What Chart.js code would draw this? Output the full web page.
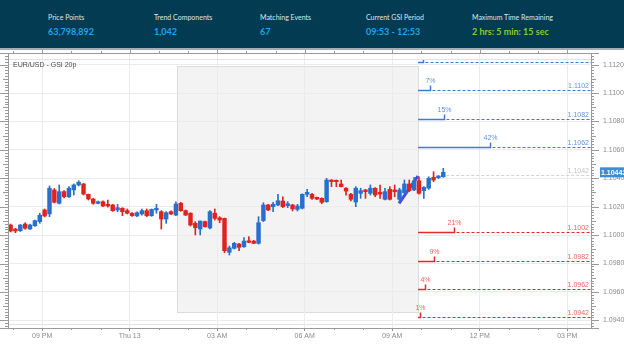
<!DOCTYPE html>
<html>
<head>
<meta charset="utf-8">
<script src="https://cdn.jsdelivr.net/npm/chart.js@4.4.1/dist/chart.umd.min.js"></script>
<style>
  body { margin: 0; width: 624px; height: 345px; overflow: hidden; background: #fff; font-family: Lato, "Liberation Sans", sans-serif; }
  #stats { position: absolute; left: 0; top: 0; width: 624px; height: 48px; background: #023b52; border-bottom: 2px solid #a3adb3; }
  .s { position: absolute; top: 0; }
  .k { position: absolute; top: 13px; white-space: nowrap; font-size: 7px; line-height: 9px; color: #dfe7ec; }
  .v { position: absolute; top: 26px; white-space: nowrap; font-size: 9px; line-height: 12px; font-weight: bold; color: #1ea6e6; }
  .v.g { color: #8cc832; }
  #c { position: absolute; left: 0; top: 50px; }
</style>
</head>
<body>
<div id="stats">
  <div class="s" style="left:48px"><div class="k">Price Points</div><div class="v">63,798,892</div></div>
  <div class="s" style="left:154px"><div class="k">Trend Components</div><div class="v">1,042</div></div>
  <div class="s" style="left:260px"><div class="k">Matching Events</div><div class="v">67</div></div>
  <div class="s" style="left:366px"><div class="k">Current GSI Period</div><div class="v">09:53 - 12:53</div></div>
  <div class="s" style="left:472px"><div class="k">Maximum Time Remaining</div><div class="v g">2 hrs: 5 min: 15 sec</div></div>
</div>
<canvas id="c" width="624" height="295"></canvas>
<script>
// 10 minute EUR/USD bars, time in hours from Wed 00:00
var barStart = 19 + 55 / 60;
var barStep = 10 / 60;

var open = [1.10071, 1.10043, 1.10031, 1.10078, 1.10043, 1.10066, 1.10095, 1.10177, 1.10149, 1.10318,
  1.10224, 1.10306, 1.10270, 1.10318, 1.10353, 1.10360, 1.10287, 1.10254, 1.10224, 1.10235,
  1.10217, 1.10212, 1.10177, 1.10189, 1.10172, 1.10154, 1.10135, 1.10149, 1.10172, 1.10137,
  1.10177, 1.10165, 1.10113, 1.10165, 1.10141, 1.10224, 1.10172, 1.10154, 1.10083, 1.10043,
  1.10095, 1.10050, 1.10154, 1.10122, 1.10118, 1.09879, 1.09907, 1.09937, 1.09918, 1.09960,
  1.09958, 1.09942, 1.10102, 1.10212, 1.10200, 1.10212, 1.10240, 1.10207, 1.10212, 1.10181,
  1.10189, 1.10287, 1.10287, 1.10266, 1.10259, 1.10235, 1.10388, 1.10386, 1.10360, 1.10330,
  1.10287, 1.10233, 1.10294, 1.10318, 1.10294, 1.10330, 1.10301, 1.10252, 1.10322, 1.10318,
  1.10252, 1.10298, 1.10360, 1.10318, 1.10383, 1.10313, 1.10330, 1.10407, 1.10404, 1.10411];
var high = [1.10078, 1.10047, 1.10075, 1.10087, 1.10078, 1.10106, 1.10154, 1.10184, 1.10346, 1.10328,
  1.10353, 1.10314, 1.10341, 1.10360, 1.10383, 1.10365, 1.10289, 1.10259, 1.10240, 1.10242,
  1.10247, 1.10217, 1.10217, 1.10193, 1.10184, 1.10158, 1.10163, 1.10184, 1.10184, 1.10184,
  1.10217, 1.10172, 1.10165, 1.10170, 1.10235, 1.10231, 1.10177, 1.10158, 1.10095, 1.10099,
  1.10099, 1.10172, 1.10184, 1.10130, 1.10120, 1.09923, 1.09949, 1.09942, 1.09982, 1.09989,
  1.09963, 1.10130, 1.10228, 1.10217, 1.10231, 1.10287, 1.10270, 1.10235, 1.10217, 1.10217,
  1.10291, 1.10322, 1.10294, 1.10268, 1.10263, 1.10400, 1.10390, 1.10388, 1.10388, 1.10334,
  1.10294, 1.10341, 1.10330, 1.10322, 1.10353, 1.10334, 1.10353, 1.10330, 1.10341, 1.10353,
  1.10330, 1.10388, 1.10388, 1.10407, 1.10411, 1.10341, 1.10411, 1.10446, 1.10420, 1.10470];
var low = [1.10022, 1.10017, 1.10025, 1.10041, 1.10040, 1.10061, 1.10083, 1.10128, 1.10130, 1.10226,
  1.10219, 1.10261, 1.10263, 1.10282, 1.10346, 1.10282, 1.10247, 1.10217, 1.10219, 1.10200,
  1.10196, 1.10167, 1.10165, 1.10137, 1.10149, 1.10132, 1.10130, 1.10141, 1.10130, 1.10132,
  1.10154, 1.10043, 1.10083, 1.10144, 1.10137, 1.10167, 1.10137, 1.10064, 1.10001, 1.10001,
  1.10055, 1.10043, 1.10106, 1.10087, 1.09876, 1.09860, 1.09902, 1.09890, 1.09914, 1.09946,
  1.09939, 1.09937, 1.10095, 1.10172, 1.10165, 1.10207, 1.10193, 1.10193, 1.10170, 1.10170,
  1.10184, 1.10270, 1.10252, 1.10249, 1.10221, 1.10231, 1.10341, 1.10341, 1.10339, 1.10282,
  1.10240, 1.10200, 1.10259, 1.10259, 1.10282, 1.10270, 1.10259, 1.10247, 1.10247, 1.10270,
  1.10235, 1.10294, 1.10306, 1.10313, 1.10289, 1.10259, 1.10322, 1.10376, 1.10398, 1.10407];
var close = [1.10029, 1.10029, 1.10071, 1.10048, 1.10071, 1.10102, 1.10140, 1.10135, 1.10330, 1.10231,
  1.10306, 1.10270, 1.10330, 1.10353, 1.10372, 1.10289, 1.10254, 1.10224, 1.10235, 1.10205,
  1.10205, 1.10172, 1.10193, 1.10165, 1.10154, 1.10137, 1.10158, 1.10172, 1.10137, 1.10181,
  1.10189, 1.10113, 1.10158, 1.10149, 1.10219, 1.10172, 1.10141, 1.10071, 1.10052, 1.10099,
  1.10059, 1.10165, 1.10118, 1.10106, 1.09890, 1.09911, 1.09942, 1.09914, 1.09958, 1.09949,
  1.09942, 1.10087, 1.10212, 1.10177, 1.10217, 1.10242, 1.10200, 1.10221, 1.10184, 1.10205,
  1.10287, 1.10301, 1.10259, 1.10254, 1.10231, 1.10388, 1.10376, 1.10376, 1.10341, 1.10310,
  1.10252, 1.10330, 1.10313, 1.10306, 1.10330, 1.10282, 1.10289, 1.10306, 1.10252, 1.10306,
  1.10318, 1.10360, 1.10313, 1.10383, 1.10294, 1.10336, 1.10400, 1.10388, 1.10416, 1.10442];

var tickHours = [21, 24, 27, 30, 33, 36, 39];
var tickLabels = ['09 PM', 'Thu 13', '03 AM', '06 AM', '09 AM', '12 PM', '03 PM'];
var priceTicks = [1.0940, 1.0960, 1.0980, 1.1000, 1.1020, 1.1040, 1.1060, 1.1080, 1.1100, 1.1120];

// matching window and the projected levels after it
var periodStart = 25 + 37 / 60;
var periodEnd = 33 + 53 / 60;
var boxTop = 1.1119, boxBottom = 1.0946;
var upLevels = [1.1122, 1.1102, 1.1082, 1.1062];
var upPct = [3, 7, 15, 42];
var downLevels = [1.1002, 1.0982, 1.0962, 1.0942];
var downPct = [21, 9, 4, 1];
var pctHours = 0.0591;   // length of the probability bar per percent
var refLevel = 1.1042;
var lastPrice = 1.10442;

var trendX = [33 + 14 / 60, 33 + 53 / 60];
var trendY = [1.10224, 1.10416];

var xMin = 19.8276, xMax = 39.814;
var yMin = 1.09346, yMax = 1.11282;

var BLUE = '#2870cf', RED = '#e0231e';
var times = close.map(function (c, i) { return barStart + i * barStep; });
var colour = function (ctx) { return close[ctx.dataIndex] >= open[ctx.dataIndex] ? BLUE : RED; };
var smallFont = '"Liberation Sans", Arial, sans-serif';

var overlay = {
  id: 'overlay',
  beforeDraw: function (chart) {
    var ctx = chart.ctx, x = chart.scales.x, y = chart.scales.y;
    var l = x.getPixelForValue(periodStart), r = x.getPixelForValue(periodEnd);
    var t = y.getPixelForValue(boxTop), b = y.getPixelForValue(boxBottom);
    ctx.save();
    ctx.fillStyle = '#f3f3f3';
    ctx.fillRect(l, t, r - l, b - t);
    ctx.strokeStyle = '#dcdcdc';
    ctx.lineWidth = 1;
    ctx.strokeRect(Math.round(l) + 0.5, Math.round(t) + 0.5, Math.round(r - l), Math.round(b - t));
    ctx.restore();
  },
  afterDraw: function (chart) {
    var ctx = chart.ctx, x = chart.scales.x, y = chart.scales.y, a = chart.chartArea;
    var fTop = a.top + 6, fBot = a.bottom - 4;
    ctx.save();

    // inner frame
    ctx.strokeStyle = '#e2e2e2';
    ctx.lineWidth = 1;
    ctx.beginPath();
    ctx.moveTo(a.left, fTop + 0.5); ctx.lineTo(a.right, fTop + 0.5);
    ctx.moveTo(a.left, fBot + 0.5); ctx.lineTo(a.right, fBot + 0.5);
    ctx.stroke();

    // rulers
    ctx.strokeStyle = '#9a9a9a';
    ctx.beginPath();
    ctx.moveTo(0, a.top + 0.5); ctx.lineTo(a.right + 8, a.top + 0.5);
    ctx.moveTo(0, a.bottom + 0.5); ctx.lineTo(a.right + 8, a.bottom + 0.5);
    ctx.moveTo(a.left + 0.5, a.top); ctx.lineTo(a.left + 0.5, a.bottom);
    ctx.moveTo(a.right + 0.5, a.top); ctx.lineTo(a.right + 0.5, a.bottom);
    for (var h = 20; h <= 39; h++) {
      var px = Math.round(x.getPixelForValue(h)) + 0.5;
      var big = h % 3 === 0;
      ctx.moveTo(px, a.top); ctx.lineTo(px, a.top - (big ? 3 : 2));
      if (!big) { ctx.moveTo(px, a.bottom); ctx.lineTo(px, a.bottom + 2); }
    }
    for (var k = Math.ceil(yMin * 5000) * 2; k <= yMax * 10000; k += 2) {
      var py = Math.round(y.getPixelForValue(k / 10000)) + 0.5;
      var len = k % 20 === 0 ? 8 : (k % 10 === 0 ? 5 : 3);
      ctx.moveTo(a.left, py); ctx.lineTo(a.left - len, py);
      ctx.moveTo(a.right, py); ctx.lineTo(a.right + len, py);
    }
    ctx.stroke();

    ctx.font = '7px ' + smallFont;
    ctx.fillStyle = '#4a4a4a';
    ctx.textBaseline = 'middle';
    ctx.fillText('EUR/USD - GSI 20p', a.left + 5, fTop + 6);

    // projected levels
    ctx.save();
    ctx.beginPath();
    ctx.rect(a.left, fTop + 1, a.right - a.left, fBot - fTop - 1);
    ctx.clip();
    var x0 = x.getPixelForValue(periodEnd);
    function level(p, pct, line, label) {
      var ly = Math.round(y.getPixelForValue(p)) + 0.5;
      var x1 = Math.round(x.getPixelForValue(periodEnd + pct * pctHours)) + 0.5;
      ctx.strokeStyle = line;
      ctx.lineWidth = 1.5;
      ctx.setLineDash([]);
      ctx.beginPath();
      ctx.moveTo(x0, ly); ctx.lineTo(x1, ly); ctx.lineTo(x1, ly - 5);
      ctx.stroke();
      ctx.lineWidth = 1;
      ctx.setLineDash([3, 2]);
      ctx.beginPath();
      ctx.moveTo(x1 + 2, ly); ctx.lineTo(a.right, ly);
      ctx.stroke();
      ctx.fillStyle = label;
      ctx.textAlign = 'center';
      ctx.fillText(pct + '%', x1, ly - 9);
      ctx.textAlign = 'right';
      ctx.fillText(p.toFixed(4), a.right - 2, ly - 4);
    }
    upLevels.forEach(function (p, i) { level(p, upPct[i], '#3a7cd8', '#5f93de'); });
    downLevels.forEach(function (p, i) { level(p, downPct[i], '#e42a2a', '#ea6262'); });

    var ry = Math.round(y.getPixelForValue(refLevel)) + 0.5;
    ctx.strokeStyle = '#d2d2d2';
    ctx.setLineDash([3, 2]);
    ctx.beginPath();
    ctx.moveTo(x.getPixelForValue(times[times.length - 1] + 0.1), ry); ctx.lineTo(a.right, ry);
    ctx.stroke();
    ctx.fillStyle = '#c4c4c4';
    ctx.fillText(refLevel.toFixed(4), a.right - 2, ry - 4);
    ctx.restore();

    // last price tag
    var ty = y.getPixelForValue(lastPrice);
    ctx.setLineDash([]);
    ctx.fillStyle = '#3a8dd6';
    ctx.fillRect(a.right + 9, ty - 5, 624 - a.right - 9, 10);
    ctx.fillStyle = '#fff';
    ctx.font = 'bold 7px ' + smallFont;
    ctx.textAlign = 'left';
    ctx.fillText(lastPrice.toFixed(5), a.right + 10, ty + 0.5);
    ctx.restore();
  }
};

new Chart(document.getElementById('c'), {
  type: 'bar',
  data: {
    datasets: [
      { data: times.map(function (t, i) { return { x: t, y: [low[i], high[i]] }; }),
        barThickness: 1, grouped: false, backgroundColor: colour },
      { data: times.map(function (t, i) { return { x: t, y: [open[i], close[i]] }; }),
        barThickness: 3.8, minBarLength: 1, grouped: false, backgroundColor: colour },
      { type: 'line', data: trendX.map(function (t, i) { return { x: t, y: trendY[i] }; }),
        borderColor: '#4848ef', borderWidth: 3, pointRadius: 0 }
    ]
  },
  options: {
    responsive: false,
    animation: false,
    layout: { padding: { left: 8, top: 3 } },
    plugins: { legend: { display: false }, tooltip: { enabled: false } },
    scales: {
      x: {
        type: 'linear', min: xMin, max: xMax, offset: false,
        afterBuildTicks: function (s) { s.ticks = tickHours.map(function (v) { return { value: v }; }); },
        afterFit: function (s) { s.height = 17; },
        grid: { color: '#ebebeb', tickColor: '#8c8c8c', tickLength: 3, offset: false },
        border: { display: false },
        ticks: {
          autoSkip: false, maxRotation: 0, padding: 1, color: '#8a8a8a',
          font: { family: smallFont, size: 7 },
          callback: function (v) { return tickLabels[tickHours.indexOf(v)]; }
        }
      },
      y: {
        position: 'right', min: yMin, max: yMax, beginAtZero: false,
        afterBuildTicks: function (s) { s.ticks = priceTicks.map(function (v) { return { value: v }; }); },
        afterFit: function (s) { s.width = 33; },
        grid: { color: '#ebebeb', drawTicks: true, tickLength: 12, tickColor: 'rgba(0,0,0,0)' },
        border: { display: false },
        ticks: {
          padding: 0, color: '#8a8a8a',
          font: { family: smallFont, size: 7, lineHeight: 0.8 },
          callback: function (v) { return v.toFixed(4); }
        }
      }
    }
  },
  plugins: [overlay]
});
</script>
</body>
</html>
